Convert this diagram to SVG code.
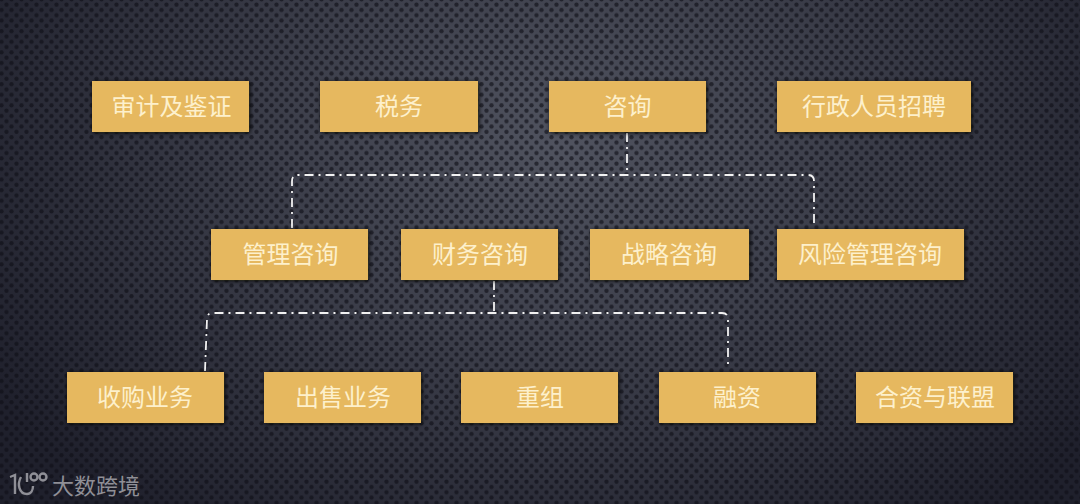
<svg xmlns="http://www.w3.org/2000/svg" width="1080" height="504" viewBox="0 0 1080 504">
<defs>
<radialGradient id="bg" gradientUnits="userSpaceOnUse" cx="560" cy="140" r="660" gradientTransform="translate(0 45) scale(1 0.72)">
<stop offset="0" stop-color="#50535f"/><stop offset="0.5" stop-color="#393b47"/><stop offset="1" stop-color="#1f202c"/>
</radialGradient>
<pattern id="dots" patternUnits="userSpaceOnUse" width="10" height="10.6" x="4" y="2">
<circle cx="2.5" cy="2.6" r="2.2" fill="#0e0f16" fill-opacity="0.62"/>
<circle cx="7.5" cy="7.9" r="2.2" fill="#0e0f16" fill-opacity="0.62"/>
</pattern>
<filter id="sh" x="-5%" y="-15%" width="110%" height="130%"><feDropShadow dx="1" dy="1" stdDeviation="2" flood-color="#0c0804" flood-opacity="0.9"/></filter>
</defs>
<style>
.b{fill:#e6b85f;filter:url(#sh)}
.t{font-family:"Noto Sans CJK SC","Noto Sans CJK TC",sans-serif;font-size:24px;fill:#fdf0cc;text-anchor:middle;font-weight:400}
.c{fill:none;stroke:#f2f2f2;stroke-width:1.8;stroke-dasharray:9 5 2 5}
.w{font-family:"Noto Sans CJK SC",sans-serif;font-size:22px;fill:#8f8f96}
.l{fill:none;stroke:#8f8f96;stroke-width:2.4}
</style>
<rect width="1080" height="504" fill="url(#bg)"/>
<rect width="1080" height="504" fill="url(#dots)"/>
<g id="connectors">
<path class="c" d="M627 133V175"/>
<path class="c" d="M292 228V181Q292 175 298 175H808Q814 175 814 181V226"/>
<path class="c" d="M494 281V313"/>
<path class="c" d="M205 371L207 319Q207 313 213 313H722Q728 313 728 319V365"/>
</g>
<g id="n1"><rect class="b" x="92" y="81" width="157" height="51"/><text class="t" x="171.500" y="115">审计及鉴证</text></g>
<g id="n2"><rect class="b" x="320" y="81" width="158" height="51"/><text class="t" x="399" y="115">税务</text></g>
<g id="n3"><rect class="b" x="549" y="81" width="157" height="51"/><text class="t" x="627.500" y="115">咨询</text></g>
<g id="n4"><rect class="b" x="777" y="81" width="194" height="51"/><text class="t" x="874" y="115">行政人员招聘</text></g>
<g id="n5"><rect class="b" x="211" y="229" width="157" height="51"/><text class="t" x="290.500" y="263">管理咨询</text></g>
<g id="n6"><rect class="b" x="401" y="229" width="157" height="51"/><text class="t" x="480" y="263">财务咨询</text></g>
<g id="n7"><rect class="b" x="590" y="229" width="159" height="51"/><text class="t" x="669" y="263">战略咨询</text></g>
<g id="n8"><rect class="b" x="777" y="229" width="187" height="51"/><text class="t" x="870" y="263">风险管理咨询</text></g>
<g id="n9"><rect class="b" x="67" y="372" width="157" height="51"/><text class="t" x="145" y="406">收购业务</text></g>
<g id="n10"><rect class="b" x="264" y="372" width="157" height="51"/><text class="t" x="343" y="406">出售业务</text></g>
<g id="n11"><rect class="b" x="461" y="372" width="157" height="51"/><text class="t" x="540" y="406">重组</text></g>
<g id="n12"><rect class="b" x="659" y="372" width="157" height="51"/><text class="t" x="737" y="406">融资</text></g>
<g id="n13"><rect class="b" x="856" y="372" width="157" height="51"/><text class="t" x="935" y="406">合资与联盟</text></g>
<g id="watermark">
<path class="l" d="M10 477L15 475V494"/>
<path class="l" stroke-width="3" d="M21 477C17 484 19 494 27 494C31 494 33 490 33 486"/>
<path class="l" stroke-width="1.500" d="M27 473V482"/>
<circle class="l" stroke-width="1.500" cx="34" cy="477" r="3.500"/>
<circle class="l" stroke-width="1.500" cx="43" cy="477" r="3.500"/>
<text class="w" x="52" y="494">大数跨境</text>
</g>
</svg>
